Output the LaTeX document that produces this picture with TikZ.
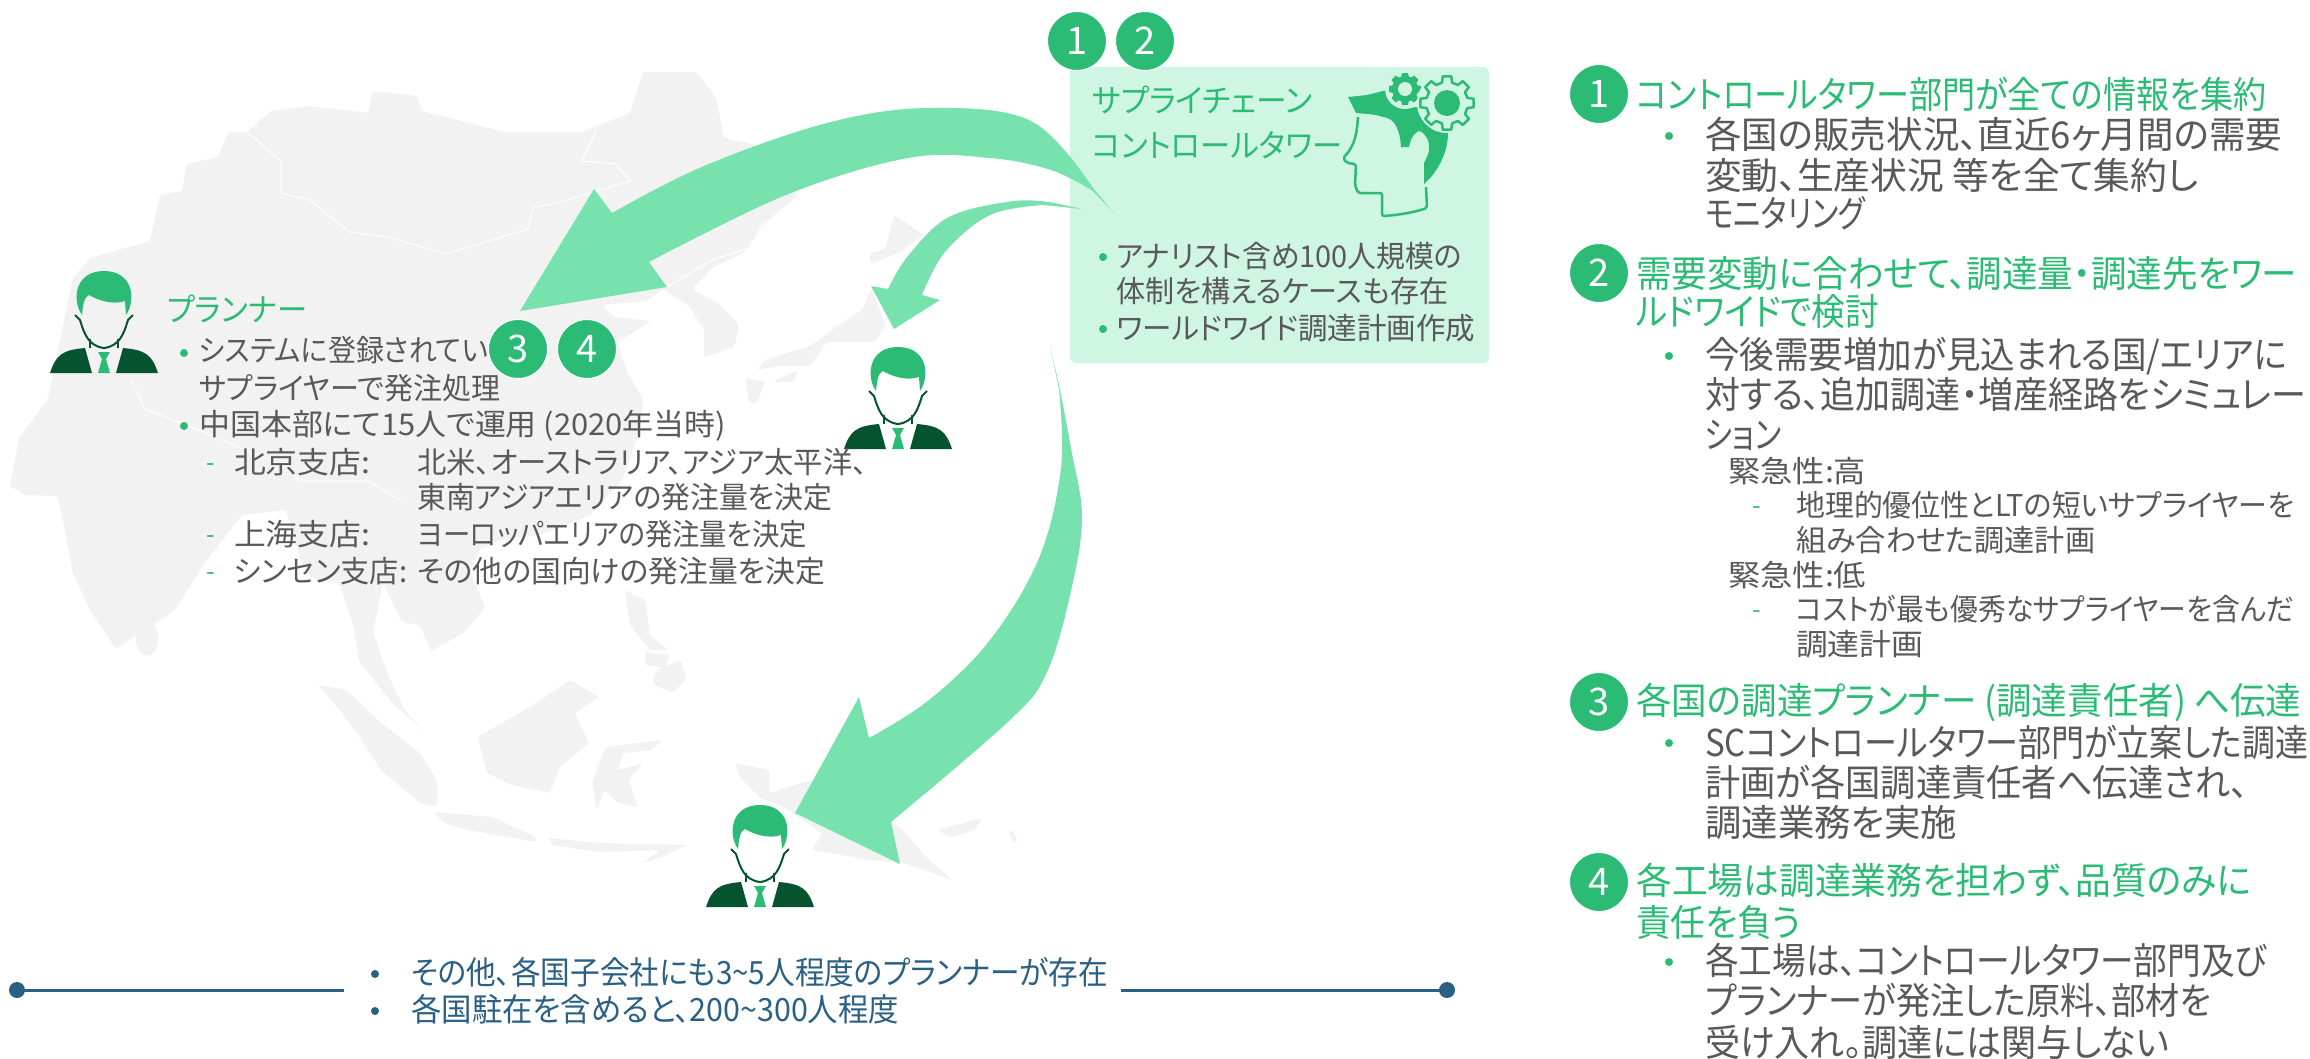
\documentclass[tikz,border=0pt]{standalone}
\usepackage{fontspec}
\setmainfont[RawFeature=+palt]{Noto Sans CJK JP}
\definecolor{mapgrey}{HTML}{F2F2F2}
\definecolor{arrowgreen}{HTML}{77E2AE}
\definecolor{markgreen}{HTML}{2BBB75}
\definecolor{boxgreen}{HTML}{CFF5E3}
\definecolor{suitgreen}{HTML}{05532F}
\definecolor{textgrey}{HTML}{595959}
\definecolor{navyline}{HTML}{2A6084}
\tikzset{
	jptext/.style={anchor=west, inner sep=0pt, text=textgrey},
	bodytext/.style={jptext, text height=32.6pt, text depth=4.4pt, font=\fontsize{37}{37}\selectfont},
	subtext/.style={jptext, text height=26.4pt, text depth=3.6pt, font=\fontsize{30}{30}\selectfont},
	headtext/.style={bodytext, text=markgreen},
	smalltext/.style={subtext},
	towertext/.style={jptext, text=markgreen, text height=28.2pt, text depth=3.8pt, font=\fontsize{32}{32}\selectfont},
	bottomtext/.style={jptext, text=navyline, text height=28.2pt, text depth=3.8pt, font=\fontsize{32}{32}\selectfont},
	dashtext/.style={jptext, text=markgreen, text height=22pt, text depth=3pt, font=\fontsize{25}{25}\selectfont},
	numbadge/.style={circle, fill=markgreen, draw=white, line width=1pt, minimum size=59pt, inner sep=0pt, text=white, font=\fontsize{38}{38}\selectfont},
	mapland/.style={fill=mapgrey, rounded corners=2.5pt},
	mapborder/.style={draw=white, line width=1pt},
	bigarrow/.style={fill=arrowgreen}
}
% the text #2 squeezed to the width #1, its height stays
\def\fitw#1#2{\resizebox{#1pt}{\height}{#2}}
% one planner figure, (#1) is the middle of its lower edge
\def\plannerman(#1){
	\begin{scope}[shift={(#1)}]
		\fill[markgreen] (-22,-58) .. controls (-32,-72) and (-30,-102) .. (0,-102) .. controls (30,-102) and (32,-72) .. (22,-58) -- (21,-72) .. controls (10,-68) and (-5,-72) .. (-15,-78) .. controls (-20,-76) and (-21,-68) .. (-22,-58) -- cycle;
		\draw[suitgreen, line width=2pt] (-29,-58) -- (-24,-53) .. controls (-20,-40) and (-16,-27) .. (0,-25) .. controls (16,-27) and (20,-40) .. (24,-53) -- (29,-58);
		\draw[suitgreen, line width=1.5pt] (-14,-34) -- (-14,-25) (14,-34) -- (14,-25);
		\fill[suitgreen] (-54,0) .. controls (-48,-18) and (-42,-23) .. (-19,-25) -- (-12,0) -- cycle;
		\fill[suitgreen] (54,0) .. controls (48,-18) and (42,-23) .. (19,-25) -- (12,0) -- cycle;
		\fill[markgreen] (-6,-21) -- (6,-21) -- (2,-14) -- (6,0) -- (-6,0) -- (-2,-14) -- cycle;
	\end{scope}
}
\begin{document}
\begin{tikzpicture}[x=1pt, y=-1pt]
	\useasboundingbox (0,0) rectangle (2310,1058);

	%%%%% MAP %%%%%
	\fill[mapland] (73,278) -- (90,258) -- (150,241) -- (160,195) -- (182,191) -- (187,164) -- (218,157) -- (228,132) -- (247,132) -- (271,111) -- (310,106) -- (368,113) -- (373,91) -- (417,96) -- (422,111) -- (504,132) -- (582,132) -- (630,113) -- (643,72) -- (696,72) -- (716,97) -- (724,138) -- (753,144) -- (798,195) -- (765,223) -- (745,252) -- (712,268) -- (692,289) -- (720,305) -- (739,325) -- (735,346) -- (704,358) -- (704,329) -- (688,305) -- (663,289) -- (647,301) -- (602,305) -- (614,317) -- (651,321) -- (618,342) -- (626,370) -- (643,399) -- (640,430) -- (622,480) -- (590,515) -- (540,535) -- (500,540) -- (480,550) -- (470,570) -- (485,607) -- (465,632) -- (431,651) -- (420,625) -- (402,622) -- (383,583) -- (373,632) -- (388,675) -- (407,714) -- (427,733) -- (393,704) -- (359,661) -- (354,627) -- (339,583) -- (310,578) -- (300,559) -- (286,510) -- (242,515) -- (204,564) -- (175,610) -- (116,649) -- (90,610) -- (73,573) -- (58,496) -- (25,495) -- (10,486) -- (19,438) -- (48,399) -- (60,340) -- cycle;
	\fill[mapland] (147,638) ellipse (11 and 18);
	% islands in the south
	\fill[mapland] (318,685) -- (347,690) -- (381,723) -- (420,753) -- (437,780) -- (437,807) -- (420,803) -- (381,770) -- (357,733) -- (337,707) -- cycle;
	\fill[mapland] (434,812) -- (492,817) -- (536,837) -- (536,842) -- (468,830) -- (444,823) -- cycle;
	\fill[mapland] (548,838) -- (600,843) -- (686,845) -- (664,856) -- (643,863) -- (660,850) -- (600,852) -- (552,845) -- cycle;
	\fill[mapland] (478,737) -- (507,720) -- (541,700) -- (570,680) -- (599,697) -- (575,713) -- (589,743) -- (560,767) -- (550,793) -- (512,785) -- (487,773) -- cycle;
	\fill[mapland] (606,747) -- (662,740) -- (652,750) -- (623,753) -- (618,770) -- (643,763) -- (628,780) -- (638,807) -- (618,803) -- (604,790) -- (597,810) -- (592,783) -- (599,763) -- cycle;
	\fill[mapland] (625,590) -- (645,600) -- (650,635) -- (668,650) -- (650,650) -- (630,625) -- cycle;
	\fill[mapland] (645,652) -- (670,655) -- (665,668) -- (645,665) -- cycle;
	\fill[mapland] (657,670) -- (681,660) -- (686,680) -- (672,693) -- (652,683) -- cycle;
	\fill[mapland] (735,763) -- (769,770) -- (769,793) -- (812,780) -- (900,827) -- (929,860) -- (953,880) -- (904,863) -- (870,860) -- (812,850) -- (822,833) -- (783,807) -- (759,797) -- (740,777) -- cycle;
	\fill[mapland] (938,830) -- (982,818) -- (975,830) -- (950,838) -- cycle;
	\fill[mapland] (1008,830) -- (1014,832) -- (1018,842) -- (1012,841) -- cycle;
	% japan
	\fill[mapland] (894,215) -- (924,235) -- (900,252) -- (871,264) -- (869,254) -- (886,248) -- cycle;
	\fill[mapland] (871,289) -- (886,325) -- (875,342) -- (827,342) -- (810,366) -- (778,366) -- (757,370) -- (765,360) -- (810,346) -- (839,325) -- (863,309) -- cycle;
	\fill[mapland] (773,382) -- (798,370) -- (794,382) -- cycle;
	\fill[mapland] (745,378) -- (765,382) -- (757,403) -- (749,403) -- cycle;
	% borders
	\draw[mapborder] (247,132) -- (281,161) -- (281,193) -- (310,200) -- (349,232) -- (388,237) -- (446,254) -- (528,229) -- (533,208) -- (567,200) -- (630,181) -- (616,164) -- (582,161) -- (596,130);
	\draw[mapborder] (131,380) -- (145,409) -- (194,428) -- (286,467) -- (300,481) -- (368,481) -- (402,501);
	\draw[mapborder] (667,287) -- (712,260) -- (749,248) -- (765,219);

	%%%%% BOX %%%%%
	\fill[boxgreen, rounded corners=6pt] (1070,67) rectangle (1489,363);
	\node[towertext] (towerone) at (1092,100) {\fitw{220}{サプライチェーン}};
	\node[towertext] (towertwo) at (1092,145) {\fitw{250}{コントロールタワー}};
	\node[smalltext] (boxa) at (1116,256) {\fitw{346}{アナリスト含め100人規模の}};
	\node[smalltext] (boxb) at (1116,291) {\fitw{332}{体制を構えるケースも存在}};
	\node[smalltext] (boxc) at (1116,328) {\fitw{359}{ワールドワイド調達計画作成}};

	% head with gears
	\fill[markgreen] (1348,97) -- (1367,95) -- (1387,90) -- (1392,102) -- (1403,108) -- (1418,107) -- (1422,118) -- (1433,130) -- (1448,133) .. controls (1448,150) and (1440,170) .. (1424,184) -- (1424,163) .. controls (1428,155) and (1430,150) .. (1429,147) .. controls (1430,138) and (1420,128) .. (1417,132) .. controls (1412,135) and (1410,142) .. (1409,147) -- (1401,147) .. controls (1400,130) and (1395,118) .. (1383,117) .. controls (1375,114) and (1365,114) .. (1356,113) -- cycle;
	\draw[markgreen, line width=2.5pt, rounded corners=2pt] (1358,117) .. controls (1357,130) and (1356,145) .. (1343,158) -- (1347,163) -- (1356,164) -- (1355,185) -- (1358,193) -- (1382,193) -- (1382,216) .. controls (1400,215) and (1415,212) .. (1427,208) -- (1426,187);
	\begin{scope}[shift={(1405,89)}]
		\fill[boxgreen] circle (20);
		\fill[markgreen] circle (13);
		\foreach \a in {0,45,...,315}
			\fill[markgreen, rotate=\a] (11,-4) -- (16,-3) -- (16,3) -- (11,4) -- cycle;
		\fill[boxgreen] circle (7);
	\end{scope}
	\begin{scope}[shift={(1447,103)}]
		\fill[boxgreen] circle (30);
		\draw[markgreen, line width=2.5pt, line join=round] (-14:21) \foreach \a in {0,45,...,315} {-- (\a-14:21) -- (\a-9:27) -- (\a+9:27) -- (\a+14:21)} -- cycle;
		\fill[markgreen] circle (13);
	\end{scope}

	%%%%% ARROWS %%%%%
	\fill[bigarrow] (1114,213) -- plot[smooth, tension=0.6] coordinates {(1093,188) (1031,121) (929,108) (827,123) (704,166) (612,213)} -- (594,189) -- (520,311) -- (667,287) -- (649,262) -- plot[smooth, tension=0.6] coordinates {(649,262) (786,195) (908,158) (990,158) (1051,170) (1093,191)} -- cycle;
	\fill[bigarrow] (1082,209) -- plot[smooth, tension=0.6] coordinates {(1055,203) (1014,201) (949,217) (908,256) (888,289)} -- (871,286) -- (894,329) -- (940,300) -- (922,295) -- plot[smooth, tension=0.6] coordinates {(922,295) (945,252) (990,215) (1043,205)} -- cycle;
	\fill[bigarrow] (1050,346) -- plot[smooth, tension=0.6] coordinates {(1059,385) (1071,448) (1082,517) (1071,591) (1047,672) (1010,720) (891,822)} -- (900,864) -- (795,813) -- (859,697) -- (869,738) -- plot[smooth, tension=0.6] coordinates {(869,738) (929,700) (990,640) (1039,558) (1061,468) (1059,389)} -- cycle;

	%%%%% PLANNERS %%%%%
	\plannerman(104,373)
	\plannerman(898,449)
	\plannerman(760,907)

	\node[towertext] (planner) at (167,309) {\fitw{140}{プランナー}};
	\foreach \bx/\by in {184/353, 184/426, 1103/257, 1103/329, 1669/136, 1669/356, 1669/743, 1669/962}
		\fill[markgreen] (\bx,\by) circle (4);
	\node[smalltext] (plana) at (199,350) {\fitw{289}{システムに登録されてい}};
	\node[smalltext] (planb) at (199,388) {\fitw{301}{サプライヤーで発注処理}};
	\node[smalltext] (planc) at (199,424) {\fitw{527}{中国本部にて15人で運用 (2020年当時)}};
	\node[dashtext] (dasha) at (206,462) {-};
	\node[smalltext] (beijing) at (234,462) {\fitw{136}{北京支店:}};
	\node[smalltext] (beijinga) at (417,462) {\fitw{450}{北米、オーストラリア、アジア太平洋、}};
	\node[smalltext] (beijingb) at (417,497) {\fitw{415}{東南アジアエリアの発注量を決定}};
	\node[dashtext] (dashb) at (206,534) {-};
	\node[smalltext] (shanghai) at (234,534) {\fitw{136}{上海支店:}};
	\node[smalltext] (shanghaia) at (417,534) {\fitw{390}{ヨーロッパエリアの発注量を決定}};
	\node[dashtext] (dashc) at (206,571) {-};
	\node[smalltext] (shenzhen) at (234,571) {\fitw{173}{シンセン支店:}};
	\node[smalltext] (shenzhena) at (417,571) {\fitw{408}{その他の国向けの発注量を決定}};

	%%%%% BOTTOM %%%%%
	\draw[navyline, line width=3pt] (17,990) -- (344,990);
	\draw[navyline, line width=3pt] (1121,990) -- (1447,990);
	\fill[navyline] (17,990) circle (8);
	\fill[navyline] (1447,990) circle (8);
	\fill[navyline] (375,974) circle (4);
	\fill[navyline] (375,1011) circle (4);
	\node[bottomtext] (bottoma) at (411,972) {\fitw{697}{その他、各国子会社にも3\string~5人程度のプランナーが存在}};
	\node[bottomtext] (bottomb) at (411,1009) {\fitw{488}{各国駐在を含めると、200\string~300人程度}};

	%%%%% RIGHT COLUMN %%%%%
	\node[numbadge] (rowone) at (1599,94) {1};
	\node[headtext] (onehead) at (1636,94) {\fitw{630}{コントロールタワー部門が全ての情報を集約}};
	\node[bodytext] (onea) at (1705,134) {\fitw{577}{各国の販売状況、直近6ヶ月間の需要}};
	\node[bodytext] (oneb) at (1705,175) {\fitw{493}{変動、生産状況 等を全て集約し}};
	\node[bodytext] (onec) at (1705,213) {\fitw{160}{モニタリング}};

	\node[numbadge] (rowtwo) at (1599,273) {2};
	\node[headtext] (twohead) at (1636,273) {\fitw{661}{需要変動に合わせて、調達量・調達先をワー}};
	\node[headtext] (twoheadb) at (1636,311) {\fitw{243}{ルドワイドで検討}};
	\node[bodytext] (twoa) at (1705,354) {\fitw{582}{今後需要増加が見込まれる国/エリアに}};
	\node[bodytext] (twob) at (1705,394) {\fitw{601}{対する、追加調達・増産経路をシミュレー}};
	\node[bodytext] (twoc) at (1705,434) {\fitw{76}{ション}};
	\node[subtext] (high) at (1728,471) {\fitw{138}{緊急性:高}};
	\node[dashtext] (dashd) at (1752,505) {-};
	\node[subtext] (higha) at (1796,505) {\fitw{498}{地理的優位性とLTの短いサプライヤーを}};
	\node[subtext] (highb) at (1796,540) {\fitw{299}{組み合わせた調達計画}};
	\node[subtext] (low) at (1728,575) {\fitw{138}{緊急性:低}};
	\node[dashtext] (dashe) at (1752,609) {-};
	\node[subtext] (lowa) at (1796,609) {\fitw{498}{コストが最も優秀なサプライヤーを含んだ}};
	\node[subtext] (lowb) at (1796,644) {\fitw{127}{調達計画}};

	\node[numbadge] (rowthree) at (1599,702) {3};
	\node[headtext] (threehead) at (1636,700) {\fitw{665}{各国の調達プランナー (調達責任者) へ伝達}};
	\node[bodytext] (threea) at (1705,742) {\fitw{603}{SCコントロールタワー部門が立案した調達}};
	\node[bodytext] (threeb) at (1705,782) {\fitw{543}{計画が各国調達責任者へ伝達され、}};
	\node[bodytext] (threec) at (1705,822) {\fitw{252}{調達業務を実施}};

	\node[numbadge] (rowfour) at (1599,882) {4};
	\node[headtext] (fourhead) at (1636,880) {\fitw{615}{各工場は調達業務を担わず、品質のみに}};
	\node[headtext] (fourheadb) at (1636,922) {\fitw{165}{責任を負う}};
	\node[bodytext] (foura) at (1705,960) {\fitw{562}{各工場は、コントロールタワー部門及び}};
	\node[bodytext] (fourb) at (1705,1000) {\fitw{506}{プランナーが発注した原料、部材を}};
	\node[bodytext] (fourc) at (1705,1042) {\fitw{464}{受け入れ。調達には関与しない}};

	%%%%% BADGES %%%%%
	\node[numbadge] (badgeone) at (1077,41) {1};
	\node[numbadge] (badgetwo) at (1145,41) {2};
	\node[numbadge] (badgethree) at (518,349) {3};
	\node[numbadge] (badgefour) at (587,349) {4};
\end{tikzpicture}
\end{document}
